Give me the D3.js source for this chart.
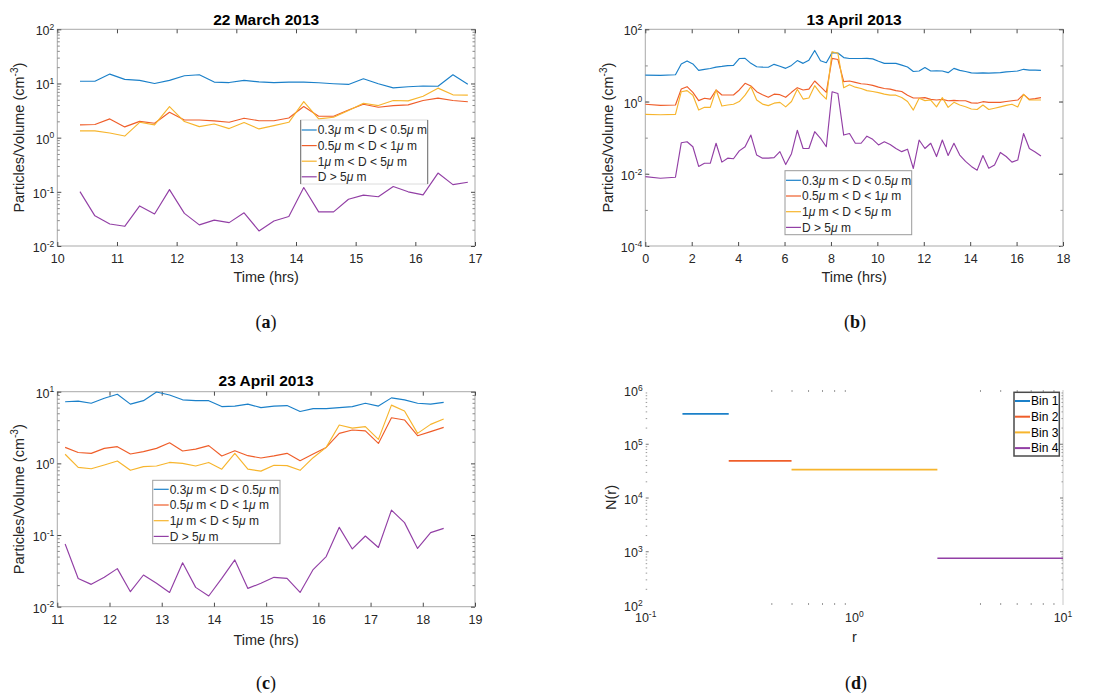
<!DOCTYPE html>
<html lang="en">
<head>
  <meta charset="UTF-8">
  <title>Particle counts</title>
  <script src="https://d3js.org/d3.v7.min.js"></script>
  <style>
    body { margin: 0; background: #fff; }
    svg { display: block; font-family: "Liberation Sans", Arial, Helvetica, sans-serif; }
  </style>
</head>
<body>
  <svg id="chart" width="1099" height="695"></svg>

  <script>
    // ---- data ----
    const SIZE_LABELS = ["0.3μ m < D < 0.5μ m", "0.5μ m < D < 1μ m", "1μ m < D < 5μ m", "D > 5μ m"];
    const BIN_LABELS = ["Bin 1", "Bin 2", "Bin 3", "Bin 4"];

    // (a) 22 March 2013
    const A_TIME = [10.38, 10.63, 10.88, 11.13, 11.38, 11.63, 11.88, 12.13, 12.38, 12.63, 12.88, 13.13, 13.38, 13.63,
                    13.88, 14.13, 14.38, 14.63, 14.88, 15.13, 15.38, 15.63, 15.88, 16.13, 16.38, 16.63, 16.88];
    const A_S1 = [11.0, 11.0, 14.9, 11.9, 11.4, 10.0, 11.4, 13.9, 14.5, 10.6, 10.4, 11.4, 10.7, 10.4,
                  10.6, 10.6, 10.3, 9.9, 9.6, 12.2, 9.9, 8.3, 8.7, 9.0, 8.9, 14.5, 9.7];
    const A_S2 = [1.72, 1.75, 2.22, 1.58, 2.0, 1.84, 2.94, 2.12, 2.12, 2.04, 1.92, 2.28, 2.05, 2.05,
                  2.31, 3.75, 2.48, 2.48, 3.25, 4.14, 3.64, 3.91, 4.03, 4.84, 5.35, 4.84, 4.6];
    const A_S3 = [1.33, 1.33, 1.22, 1.07, 1.92, 1.72, 3.75, 1.98, 1.60, 1.79, 1.47, 1.90, 1.45, 1.67,
                  1.92, 4.64, 2.22, 2.38, 3.16, 4.32, 3.91, 4.84, 4.77, 5.82, 8.2, 6.17, 6.1];
    const A_S4 = [0.101, 0.036, 0.0255, 0.0231, 0.055, 0.039, 0.110, 0.040, 0.0245, 0.030, 0.027, 0.041, 0.019, 0.029,
                  0.035, 0.12, 0.0427, 0.0427, 0.073, 0.087, 0.081, 0.125, 0.10, 0.088, 0.222, 0.136, 0.15];

    // (b) 13 April 2013
    const B_TIME = [0, 0.65, 1.3, 1.55, 1.8, 2.05, 2.3, 2.55, 2.8, 3.05, 3.3, 3.55, 3.8, 4.05, 4.3, 4.55, 4.8,
                    5.05, 5.3, 5.55, 5.8, 6.05, 6.3, 6.55, 6.8, 7.05, 7.3, 7.55, 7.8, 8.05, 8.3, 8.55, 8.8,
                    9.05, 9.3, 9.55, 9.8, 10.05, 10.3, 10.55, 10.8, 11.05, 11.3, 11.55, 11.8, 12.05, 12.3, 12.55,
                    12.8, 13.05, 13.3, 13.55, 13.8, 14.05, 14.3, 14.55, 14.8, 15.05, 15.3, 15.55, 15.8, 16.05,
                    16.3, 16.55, 16.8, 17.05];
    const B_S1 = [5.4, 5.3, 5.5, 11.0, 13.3, 11.0, 7.3, 7.8, 8.2, 9.0, 9.4, 9.9, 10.0, 15.5, 15.7, 11.4, 9.2,
                  9.0, 8.9, 10.7, 9.5, 8.3, 10.0, 13.6, 11.4, 14.0, 26.0, 13.5, 11.9, 22.6, 22.0, 16.5, 15.5,
                  15.5, 15.5, 15.7, 15.2, 13.0, 11.4, 11.4, 11.4, 10.2, 9.0, 6.8, 7.0, 8.7, 7.0, 7.1,
                  7.0, 6.3, 8.3, 7.3, 6.8, 6.2, 6.1, 6.2, 6.1, 6.2, 6.3, 6.6, 6.8, 7.0,
                  7.8, 7.4, 7.4, 7.3];
    const B_S2 = [0.84, 0.78, 0.80, 2.22, 2.58, 1.8, 1.06, 1.23, 1.17, 2.09, 1.52, 1.52, 1.52, 2.09, 3.19, 2.7, 1.87,
                  1.55, 1.31, 1.6, 1.55, 1.31, 1.8, 2.42, 2.09, 2.2, 3.7, 2.58, 1.8, 15.7, 14.6, 3.55, 3.7,
                  3.4, 3.1, 3.0, 2.8, 2.5, 2.3, 2.2, 2.0, 1.9, 1.5, 1.25, 1.25, 1.28, 1.15, 1.1,
                  1.15, 1.05, 1.08, 1.05, 1.05, 0.92, 0.9, 0.99, 0.95, 0.95, 0.95, 1.0, 1.05, 1.1,
                  1.58, 1.15, 1.2, 1.28];
    const B_S3 = [0.44, 0.43, 0.44, 1.87, 2.0, 1.5, 0.58, 0.69, 0.69, 2.09, 0.75, 0.8, 0.84, 1.0, 1.5, 2.58, 1.1,
                  0.85, 0.77, 0.9, 0.95, 0.71, 1.0, 2.2, 1.17, 1.25, 2.75, 1.69, 1.17, 24, 21.6, 2.4, 2.9,
                  2.5, 2.3, 2.0, 1.9, 1.76, 1.6, 1.5, 1.5, 1.3, 1.0, 0.58, 1.23, 1.06, 1.1, 0.71,
                  1.28, 0.69, 0.95, 0.8, 0.72, 0.62, 0.6, 0.8, 0.6, 0.65, 0.71, 0.78, 0.84, 0.71,
                  1.58, 1.1, 1.1, 1.1];
    const B_S4 = [0.0083, 0.0075, 0.0080, 0.072, 0.077, 0.056, 0.016, 0.0195, 0.0195, 0.07, 0.021, 0.027, 0.026, 0.043, 0.056, 0.118, 0.033,
                  0.027, 0.027, 0.028, 0.041, 0.018, 0.036, 0.16, 0.05, 0.05, 0.146, 0.096, 0.056, 1.87, 1.67, 0.118, 0.13,
                  0.07, 0.07, 0.11, 0.09, 0.063, 0.077, 0.065, 0.05, 0.041, 0.048, 0.014, 0.086, 0.05, 0.07, 0.03,
                  0.086, 0.032, 0.07, 0.033, 0.022, 0.016, 0.0126, 0.032, 0.0143, 0.0175, 0.039, 0.030, 0.021, 0.024,
                  0.13, 0.05, 0.04, 0.031];

    // (c) 23 April 2013
    const C_TIME = [11.15, 11.4, 11.65, 11.9, 12.15, 12.4, 12.65, 12.9, 13.15, 13.4, 13.65, 13.9, 14.15, 14.4, 14.65,
                    14.9, 15.15, 15.4, 15.65, 15.9, 16.15, 16.4, 16.65, 16.9, 17.15, 17.4, 17.65, 17.9, 18.15, 18.4];
    const C_S1 = [7.25, 7.4, 6.9, 8.1, 9.2, 6.7, 7.5, 9.9, 9.0, 7.7, 7.5, 7.5, 6.2, 6.3, 6.7,
                  6.0, 6.3, 6.4, 5.3, 5.8, 5.8, 6.0, 6.2, 6.9, 6.3, 8.2, 7.7, 6.9, 6.7, 7.1];
    const C_S2 = [1.67, 1.42, 1.38, 1.62, 1.71, 1.35, 1.46, 1.62, 1.94, 1.49, 1.58, 1.77, 1.27, 1.50, 1.28,
                  1.19, 1.27, 1.38, 1.09, 1.35, 1.67, 2.62, 2.92, 2.84, 1.9, 4.33, 4.03, 2.43, 2.77, 3.18];
    const C_S3 = [1.34, 0.88, 0.84, 0.95, 1.08, 0.80, 0.90, 0.92, 1.03, 1.0, 0.92, 1.03, 0.83, 1.38, 0.83,
                  0.78, 0.94, 0.93, 0.80, 1.2, 1.67, 3.43, 3.1, 3.25, 2.16, 6.5, 5.37, 2.62, 3.5, 4.16];
    const C_S4 = [0.075, 0.0248, 0.0205, 0.0257, 0.034, 0.0162, 0.0277, 0.0212, 0.0158, 0.041, 0.0186, 0.0141, 0.0248, 0.045, 0.018,
                  0.0212, 0.0257, 0.0248, 0.0158, 0.033, 0.05, 0.128, 0.064, 0.097, 0.067, 0.223, 0.149, 0.065, 0.108, 0.124];

    // (d) size distribution bins
    const BIN_R0 = [0.15, 0.25, 0.5, 2.5];
    const BIN_R1 = [0.25, 0.5, 2.5, 10];
    const BIN_N = [3.6e5, 4.8e4, 3.3e4, 740];

    const COLORS = ["#1b80c9", "#ef5e2a", "#f7b52d", "#923fa5"];
    const TXT = "#262626";

    const svg = d3.select("#chart");

    function powLabel(t, exp, size) {
      t.append("tspan").text("10");
      t.append("tspan").attr("font-size", size * 0.68).attr("dy", -size * 0.42).text(exp);
    }

    function minorVals(domain, mults) {
      const out = [];
      const e0 = Math.round(Math.log10(domain[0])), e1 = Math.round(Math.log10(domain[1]));
      for (let e = e0; e < e1; e++) mults.forEach(m => out.push(m * Math.pow(10, e)));
      return out;
    }

    function cleanAxis(sel, color) {
      sel.select(".domain").remove();
      sel.selectAll(".tick line").attr("stroke", color);
      sel.attr("font-family", null).attr("font-size", 12.5).attr("fill", null);
      sel.selectAll(".tick text").attr("fill", TXT);
    }

    function drawLegend(g, box, labels, lw) {
      g.append("rect")
        .attr("x", box.x).attr("y", box.y).attr("width", box.w).attr("height", box.h)
        .attr("fill", "#fff").attr("stroke", box.stroke).attr("stroke-width", box.sw);
      if (box.sides) {
        [box.x, box.x + box.w].forEach(xx => g.append("line")
          .attr("x1", xx).attr("x2", xx).attr("y1", box.y).attr("y2", box.y + box.h)
          .attr("stroke", box.sides));
      }
      labels.forEach((lab, i) => {
        const cy = box.y + box.pad + i * box.step;
        g.append("line")
          .attr("x1", box.x + 1).attr("x2", box.x + 16).attr("y1", cy).attr("y2", cy)
          .attr("stroke", COLORS[i]).attr("stroke-width", lw);
        const t = g.append("text").attr("x", box.x + 17).attr("y", cy + 4.3)
          .attr("font-size", 12).attr("fill", box.textColor || TXT);
        lab.split("μ").forEach((part, j) => {
          if (j > 0) t.append("tspan").attr("font-style", "italic").text("μ");
          t.append("tspan").text(part);
        });
      });
    }

    function yLabel(g, x, y, parts) {
      const t = g.append("text")
        .attr("transform", `translate(${x},${y}) rotate(-90)`)
        .attr("text-anchor", "middle").attr("font-size", 14.5).attr("fill", TXT);
      t.append("tspan").text(parts[0]);
      if (parts.length > 1) {
        t.append("tspan").attr("font-size", 10).attr("dy", -6).text(parts[1]);
        t.append("tspan").attr("dy", 6).text(parts[2]);
      }
    }

    // time-series panel (a), (b), (c)
    function drawTimePanel(p) {
      const g = svg.append("g");
      const x = d3.scaleLinear().domain(p.xDomain).range([p.left, p.right]);
      const y = d3.scaleLog().domain(p.yDomain).range([p.bottom, p.top]);
      const tickCol = "#4a4a4a";

      g.append("rect")
        .attr("x", p.left).attr("y", p.top)
        .attr("width", p.right - p.left).attr("height", p.bottom - p.top)
        .attr("fill", "none").attr("stroke", "#a9a9a9").attr("stroke-width", 1);

      g.append("g").attr("transform", `translate(0,${p.bottom})`)
        .call(d3.axisBottom(x).tickValues(p.xTicks).tickSize(-4).tickSizeOuter(0).tickPadding(8).tickFormat(d3.format("d")))
        .call(s => cleanAxis(s, tickCol));
      g.append("g").attr("transform", `translate(0,${p.top})`)
        .call(d3.axisTop(x).tickValues(p.xTicks).tickSize(-4).tickSizeOuter(0).tickFormat(""))
        .call(s => cleanAxis(s, tickCol));

      const minors = minorVals(p.yDomain, p.yMinorMults);
      [[d3.axisLeft, p.left], [d3.axisRight, p.right]].forEach(([ax, xx]) => {
        g.append("g").attr("transform", `translate(${xx},0)`)
          .call(ax(y).tickValues(p.yMajor).tickSize(-4).tickSizeOuter(0).tickFormat(""))
          .call(s => cleanAxis(s, tickCol));
        g.append("g").attr("transform", `translate(${xx},0)`)
          .call(ax(y).tickValues(minors).tickSize(-2.5).tickSizeOuter(0).tickFormat(""))
          .call(s => cleanAxis(s, "#8a8a8a"));
      });

      p.yLabels.forEach(v => {
        const t = g.append("text").attr("x", p.left - 3).attr("y", y(v) + 6)
          .attr("text-anchor", "end").attr("font-size", 12.5).attr("fill", TXT);
        powLabel(t, String(Math.round(Math.log10(v))), 12.5);
      });

      const line = d3.line().x(d => x(d[0])).y(d => y(d[1]));
      p.series.forEach((s, i) => {
        g.append("path")
          .datum(p.time.map((t, k) => [t, s[k]]))
          .attr("d", line).attr("fill", "none")
          .attr("stroke", COLORS[i]).attr("stroke-width", 1.15)
          .attr("stroke-linejoin", "round");
      });

      const cx = (p.left + p.right) / 2;
      g.append("text").attr("x", cx).attr("y", p.titleY)
        .attr("text-anchor", "middle").attr("font-size", 15.5).attr("font-weight", "bold")
        .attr("fill", "#000").text(p.title);
      g.append("text").attr("x", cx).attr("y", p.xLabelY)
        .attr("text-anchor", "middle").attr("font-size", 14.5).attr("fill", TXT).text("Time (hrs)");
      yLabel(g, p.yLabelX, (p.top + p.bottom) / 2, ["Particles/Volume (cm", "-3", ")"]);

      drawLegend(g, p.legend, SIZE_LABELS, 1.2);
    }

    // bin panel (d)
    function drawBinPanel(p) {
      const g = svg.append("g");
      const x = d3.scaleLog().domain([0.1, 10]).range([p.left, p.right]);
      const y = d3.scaleLog().domain([1e2, 1e6]).range([p.bottom, p.top]);
      const faint = "#9a9a9a";

      g.append("line").attr("x1", p.right).attr("x2", p.right).attr("y1", p.top).attr("y2", p.bottom)
        .attr("stroke", "#c8c8c8");

      const xMinor = minorVals([0.1, 10], [4, 5, 6, 7, 8, 9]);
      [[d3.axisBottom, p.bottom], [d3.axisTop, p.top]].forEach(([ax, yy]) => {
        g.append("g").attr("transform", `translate(0,${yy})`)
          .call(ax(x).tickValues(xMinor).tickSize(-2).tickSizeOuter(0).tickFormat(""))
          .call(s => cleanAxis(s, faint));
      });
      const yMinor = minorVals([1e2, 1e6], [2, 3, 4, 5, 6, 7, 8, 9]);
      [[d3.axisLeft, p.left], [d3.axisRight, p.right]].forEach(([ax, xx]) => {
        g.append("g").attr("transform", `translate(${xx},0)`)
          .call(ax(y).tickValues([1e3, 1e4, 1e5]).tickSize(-3).tickSizeOuter(0).tickFormat(""))
          .call(s => cleanAxis(s, "#777"));
        g.append("g").attr("transform", `translate(${xx},0)`)
          .call(ax(y).tickValues(yMinor).tickSize(-1.5).tickSizeOuter(0).tickFormat(""))
          .call(s => cleanAxis(s, faint));
      });

      [1e2, 1e3, 1e4, 1e5, 1e6].forEach(v => {
        const t = g.append("text").attr("x", p.left - 3).attr("y", y(v) + 6)
          .attr("text-anchor", "end").attr("font-size", 12.5).attr("fill", TXT);
        powLabel(t, String(Math.round(Math.log10(v))), 12.5);
      });
      [0.1, 1, 10].forEach(v => {
        const t = g.append("text").attr("x", x(v)).attr("y", p.bottom + 17)
          .attr("text-anchor", "middle").attr("font-size", 12.5).attr("fill", TXT);
        powLabel(t, String(Math.round(Math.log10(v))), 12.5);
      });

      BIN_N.forEach((n, i) => {
        g.append("line")
          .attr("x1", x(BIN_R0[i])).attr("x2", x(BIN_R1[i]))
          .attr("y1", y(n)).attr("y2", y(n))
          .attr("stroke", COLORS[i]).attr("stroke-width", 1.6);
      });

      g.append("text").attr("x", (p.left + p.right) / 2).attr("y", p.bottom + 37)
        .attr("text-anchor", "middle").attr("font-size", 14.5).attr("fill", TXT).text("r");
      yLabel(g, 616, (p.top + p.bottom) / 2, ["N(r)"]);

      drawLegend(g, p.legend, BIN_LABELS, 2);
    }

    drawTimePanel({
      left: 57.3, right: 475, top: 29.3, bottom: 246,
      xDomain: [10, 17], xTicks: [10, 11, 12, 13, 14, 15, 16, 17],
      yDomain: [1e-2, 1e2], yMajor: [1e-2, 1e-1, 1, 10, 100], yLabels: [1e-2, 1e-1, 1, 10, 100],
      yMinorMults: [2, 3, 4, 5, 6, 7, 8, 9],
      time: A_TIME, series: [A_S1, A_S2, A_S3, A_S4],
      title: "22 March 2013", titleY: 24.5, xLabelY: 282, yLabelX: 24,
      legend: { x: 300.7, y: 120, w: 127, h: 64, pad: 10, step: 15.6, stroke: "#dcdcdc", sw: 1, sides: "#6e6e6e" }
    });

    drawTimePanel({
      left: 645.3, right: 1063, top: 29.3, bottom: 246,
      xDomain: [0, 18], xTicks: [0, 2, 4, 6, 8, 10, 12, 14, 16, 18],
      yDomain: [1e-4, 1e2], yMajor: [1e-4, 1e-2, 1, 100], yLabels: [1e-4, 1e-2, 1, 100],
      yMinorMults: [1],
      time: B_TIME, series: [B_S1, B_S2, B_S3, B_S4],
      title: "13 April 2013", titleY: 24.5, xLabelY: 282, yLabelX: 613,
      legend: { x: 785, y: 170.7, w: 126.7, h: 64, pad: 9.6, step: 15.7, stroke: "#9a9a9a", sw: 1 }
    });

    drawTimePanel({
      left: 57.3, right: 475, top: 391.7, bottom: 606.7,
      xDomain: [11, 19], xTicks: [11, 12, 13, 14, 15, 16, 17, 18, 19],
      yDomain: [1e-2, 1e1], yMajor: [1e-2, 1e-1, 1, 10], yLabels: [1e-2, 1e-1, 1, 10],
      yMinorMults: [2, 3, 4, 5, 6, 7, 8, 9],
      time: C_TIME, series: [C_S1, C_S2, C_S3, C_S4],
      title: "23 April 2013", titleY: 385.5, xLabelY: 645, yLabelX: 24,
      legend: { x: 152.7, y: 480.3, w: 127.3, h: 63.4, pad: 9, step: 15.7, stroke: "#a0a0a0", sw: 1 }
    });

    drawBinPanel({
      left: 645.7, right: 1063, top: 390, bottom: 605,
      legend: { x: 1014, y: 392.3, w: 45.3, h: 63.7, pad: 8.7, step: 15.7, stroke: "#4a4a4a", sw: 1.5, textColor: "#000" }
    });

    // sub-figure captions
    [["a", 266, 328], ["b", 855, 328], ["c", 266, 689], ["d", 856, 689]].forEach(([k, cx, cy]) => {
      const t = svg.append("text").attr("x", cx).attr("y", cy)
        .attr("text-anchor", "middle").attr("font-size", 18)
        .attr("font-family", "'Liberation Serif', 'Times New Roman', serif").attr("fill", "#111");
      t.append("tspan").text("(");
      t.append("tspan").attr("font-weight", "bold").text(k);
      t.append("tspan").text(")");
    });
  </script>
</body>
</html>
